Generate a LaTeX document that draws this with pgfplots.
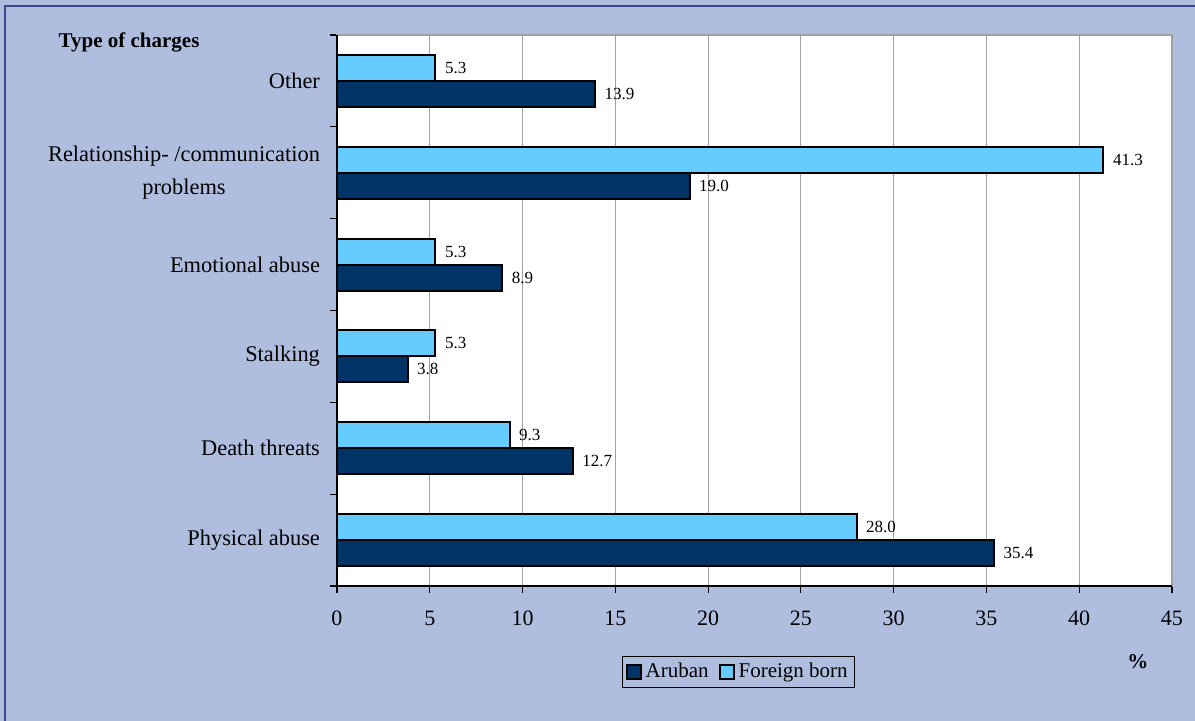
\documentclass[border=0pt]{standalone}
\usepackage{pgfplots}
\pgfplotsset{compat=1.18}
\usepackage{fontspec}
\setmainfont{Liberation Serif}
\definecolor{bgc}{RGB}{175,190,223}
\definecolor{framec}{RGB}{55,75,140}
\definecolor{aruban}{RGB}{0,51,102}
\definecolor{foreign}{RGB}{102,204,255}
\definecolor{gridc}{RGB}{160,160,160}
\begin{document}
\begin{tikzpicture}
\path[use as bounding box] (0,0) rectangle (597.5pt,360.5pt);
\fill[bgc] (0,0) rectangle (597.5pt,360.5pt);
\draw[framec, line width=1pt] (2.5pt,0) -- (2.5pt,357.5pt) -- (597.5pt,357.5pt);
\begin{axis}[
  at={(168.5pt,67.5pt)}, anchor=south west,
  scale only axis, width=417.5pt, height=275.5pt,
  xbar, bar width=0.284,
  xmin=0, xmax=45, ymin=-0.5, ymax=5.5,
  xtick={0,5,...,45},
  ytick={-0.5,0.5,...,5.5}, yticklabels={},
  xtick pos=bottom, ytick pos=left,
  extra y ticks={0,1,2,3,4,5},
  extra y tick labels={Physical abuse,Death threats,Stalking,Emotional abuse,{Relationship- /communication\\problems},Other},
  extra y tick style={major tick length=0pt, yticklabel style={align=center, xshift=-5pt, font=\fontsize{11.2}{16.5}\selectfont}},
  tick align=outside, major tick length=3.5pt,
  tick style={black, line width=0.6pt},
  xmajorgrids=true, grid style={gridc, line width=0.6pt},
  axis line style={gridc, line width=1pt},
  axis background/.style={fill=white},
  ticklabel style={font=\fontsize{11}{12}\selectfont},
  /pgf/number format/assume math mode=true,
  xticklabel style={yshift=-5.5pt},
  point meta=x,
  nodes near coords={\pgfmathprintnumber[fixed,fixed zerofill,precision=1]{\pgfplotspointmeta}},
  every node near coord/.append style={font=\fontsize{8.5}{10}\selectfont, anchor=west, xshift=1pt},
  legend columns=2,
  legend style={at={(0.481,-0.156)}, anchor=center, draw=black, fill=bgc,
    font=\fontsize{10.5}{12}\selectfont, inner sep=1.5pt,
    /tikz/every even column/.append style={column sep=3pt}},
  legend image code/.code={\draw[#1, draw=black, line width=1pt] (0pt,-3.5pt) rectangle (7pt,3.5pt);},
  clip=false,
]
\addplot[fill=aruban, draw=black, line width=1pt, bar shift=-0.142] coordinates {
  (35.4,0) (12.7,1) (3.8,2) (8.9,3) (19.0,4) (13.9,5)};
\addlegendentry{Aruban}
\addplot[fill=foreign, draw=black, line width=1pt, bar shift=0.142] coordinates {
  (28.0,0) (9.3,1) (5.3,2) (5.3,3) (41.3,4) (5.3,5)};
\addlegendentry{Foreign born}
\draw[black, line width=1pt] (rel axis cs:0,1) -- (rel axis cs:0,0) -- (rel axis cs:1,0);
\node[font=\bfseries\fontsize{10.5}{12}\selectfont] at (axis description cs:-0.249,0.987) {Type of charges};
\node[font=\bfseries\fontsize{10.5}{12}\selectfont] at (axis description cs:0.959,-0.138) {\%};
\end{axis}
\end{tikzpicture}
\end{document}
